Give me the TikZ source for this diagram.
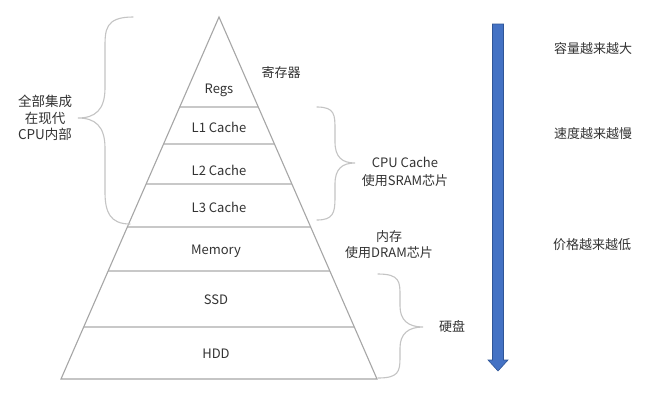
\documentclass[tikz,border=0pt]{standalone}
\usepackage{fontspec}
\setmainfont{Noto Sans CJK SC}
\usetikzlibrary{calc}
\definecolor{txt}{HTML}{333333}
\definecolor{edge}{HTML}{A6A6A6}
\definecolor{sep}{HTML}{C8C8C8}
\definecolor{brc}{HTML}{C4C4C4}
\definecolor{arrfill}{HTML}{4472C4}
\definecolor{arredge}{HTML}{2F5597}
\tikzset{
  lbl/.style={text=txt, inner sep=0pt, align=center, font=\fontsize{13}{16.5}\selectfont},
  sidebox/.style={draw=edge, line width=1.1pt, line join=miter},
  sepline/.style={draw=sep, line width=1.3pt},
  bracestyle/.style={draw=brc, line width=1.1pt, line cap=round},
}
\begin{document}
\begin{tikzpicture}[x=1pt,y=-1pt]
\useasboundingbox (0,0) rectangle (666,402);
\fill[white] (0,0) rectangle (666,402);
% pyramid
\coordinate (A) at (219,17);
\coordinate (BL) at (61,379);
\coordinate (BR) at (377,379);
\foreach \t [count=\i] in {0.2486,0.3508,0.4613,0.5801,0.7017,0.8564}{
  \draw[sepline] ($(A)!\t!(BL)$) -- ($(A)!\t!(BR)$);
}
\draw[sidebox] (A) -- (BL) -- (BR) -- cycle;
% layer labels
\node[lbl] (regs) at (219,90) {Regs};
\node[lbl] (l1) at (219,127) {L1 Cache};
\node[lbl] (l2) at (219,170) {L2 Cache};
\node[lbl] (l3) at (219,207) {L3 Cache};
\node[lbl] (mem) at (216,251) {Memory};
\node[lbl] (ssd) at (216,300) {SSD};
\node[lbl] (hdd) at (216,354) {HDD};
% left brace (pointing left)
\draw[bracestyle] (133,17) .. controls (105,17) and (105,30) .. (105,48) -- (105,88)
  .. controls (105,110) and (95,118) .. (78,118) .. controls (95,118) and (105,126) .. (105,148) -- (105,192)
  .. controls (105,212) and (110,224) .. (130,224);
\node[lbl, font=\fontsize{13.5}{16.5}\selectfont] (cpuin) at (45,118) {全部集成\\在现代\\CPU内部};
% register label
\node[lbl] (reg) at (281,73) {寄存器};
% CPU cache brace (pointing right)
\draw[bracestyle] (317,107) .. controls (335,107) and (335,115) .. (335,130) -- (335,142)
  .. controls (335,157) and (342,163) .. (355,163) .. controls (342,163) and (335,169) .. (335,184) -- (335,198)
  .. controls (335,213) and (333,220) .. (317,220);
\node[lbl, font=\fontsize{13}{18}\selectfont] (cache) at (405,172) {CPU Cache\\使用SRAM芯片};
% memory label
\node[lbl, font=\fontsize{13}{16}\selectfont] (dram) at (389,245) {内存\\使用DRAM芯片};
% disk brace
\draw[bracestyle] (378,274) .. controls (400,274) and (400,282) .. (400,296) -- (400,306)
  .. controls (400,320) and (408,327) .. (423,327) .. controls (408,327) and (400,334) .. (400,348) -- (400,358)
  .. controls (400,372) and (398,378) .. (378,378);
\node[lbl] (disk) at (452,327) {硬盘};
% blue arrow
\coordinate (atop) at (498,24);
\coordinate (atip) at (498,371);
\filldraw[fill=arrfill, draw=arredge, line width=0.6pt, line join=miter]
  ($(atop)+(-5.5,0)$) -- ($(atop)+(5.5,0)$) -- (503.5,360) -- (508,360) -- (atip)
  -- (488,360) -- (492.5,360) -- cycle;
% right labels
\node[lbl] (cap) at (593,49) {容量越来越大};
\node[lbl] (spd) at (593,134) {速度越来越慢};
\node[lbl] (price) at (592,245) {价格越来越低};
\end{tikzpicture}
\end{document}
